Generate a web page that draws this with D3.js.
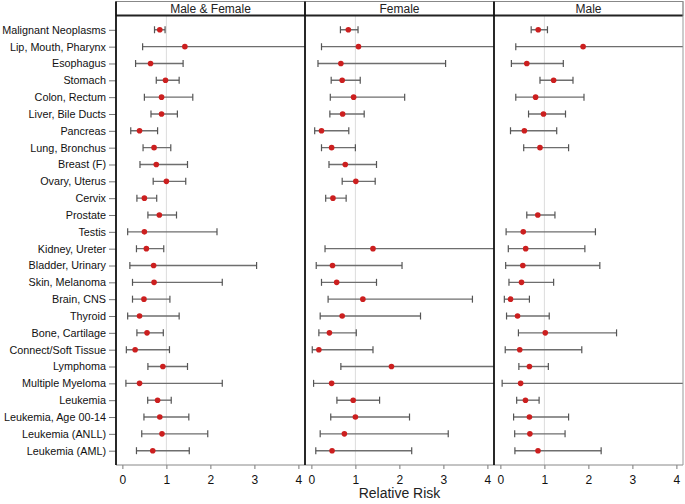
<!DOCTYPE html>
<html><head><meta charset="utf-8">
<script src="https://cdn.jsdelivr.net/npm/d3@7"></script>
<style>body{margin:0;background:#fff;} svg{display:block;font-family:"Liberation Sans",Arial,sans-serif;}</style>
</head><body><svg id="c" width="685" height="504"></svg>
<script>
const categories = ["Malignant Neoplasms","Lip, Mouth, Pharynx","Esophagus","Stomach","Colon, Rectum","Liver, Bile Ducts","Pancreas","Lung, Bronchus","Breast (F)","Ovary, Uterus","Cervix","Prostate","Testis","Kidney, Ureter","Bladder, Urinary","Skin, Melanoma","Brain, CNS","Thyroid","Bone, Cartilage","Connect/Soft Tissue","Lymphoma","Multiple Myeloma","Leukemia","Leukemia, Age 00-14","Leukemia (ANLL)","Leukemia (AML)"];
const panels = ["Male & Female","Female","Male"];
const xTicks = [0,1,2,3,4];

const mfEst = [0.85,1.42,0.64,0.98,0.89,0.89,0.39,0.72,0.77,1.00,0.50,0.84,0.50,0.545,0.71,0.72,0.49,0.39,0.56,0.29,0.92,0.39,0.80,0.85,0.90,0.69];
const mfLo  = [0.73,0.46,0.30,0.77,0.50,0.65,0.19,0.47,0.40,0.70,0.33,0.58,0.12,0.32,0.17,0.23,0.23,0.12,0.33,0.09,0.58,0.08,0.575,0.49,0.44,0.32];
const mfHi  = [0.97,5.0,1.38,1.29,1.60,1.25,0.80,1.10,1.48,1.44,0.78,1.23,2.15,0.94,3.05,2.27,1.08,1.29,0.93,1.07,1.48,2.27,1.11,1.51,1.94,1.52];

const fEst = [0.84,1.07,0.67,0.70,0.96,0.71,0.23,0.46,0.77,1.01,0.49,null,null,1.40,0.48,0.575,1.17,0.70,0.41,0.17,1.82,0.46,0.95,1.00,0.75,0.47];
const fLo  = [0.66,0.23,0.15,0.45,0.43,0.42,0.075,0.23,0.40,0.70,0.325,null,null,0.31,0.11,0.23,0.38,0.20,0.17,0.02,0.67,0.05,0.58,0.44,0.20,0.10];
const fHi  = [1.06,5.0,3.05,1.11,2.12,1.20,0.85,1.00,1.48,1.45,0.79,null,null,5.0,2.06,1.48,3.66,2.48,1.02,1.40,5.0,5.0,1.55,2.23,3.11,2.28];

const mEst = [0.86,1.88,0.60,1.21,0.80,0.98,0.545,0.90,null,null,null,0.85,0.52,0.575,0.51,0.48,0.23,0.39,1.02,0.44,0.66,0.46,0.57,0.66,0.67,0.855];
const mLo  = [0.70,0.35,0.25,0.90,0.35,0.64,0.23,0.53,null,null,null,0.60,0.13,0.18,0.12,0.195,0.09,0.14,0.41,0.11,0.42,0.04,0.37,0.30,0.325,0.33];
const mHi  = [1.07,5.0,1.43,1.65,1.90,1.48,1.28,1.55,null,null,null,1.24,2.16,1.92,2.26,1.21,0.66,1.11,2.64,1.85,1.09,5.0,0.88,1.55,1.47,2.29];

const seriesData = [[mfEst,mfLo,mfHi],[fEst,fLo,fHi],[mEst,mLo,mHi]];

const svg = d3.select("#c");
const plotTop = 15.5, plotBottom = 465;
const panelX = [116, 305, 494], panelW = 189;

const y = d3.scalePoint().domain(categories).range([plotTop, plotBottom]).padding(0.85);

const yAxis = svg.append("g").attr("transform", `translate(${panelX[0]},0)`)
  .call(d3.axisLeft(y).tickSize(7).tickPadding(3));
yAxis.select(".domain").remove();
yAxis.selectAll(".tick line").attr("stroke","#777");
yAxis.selectAll(".tick text").attr("font-size",10.8).attr("fill","#111").attr("font-family",'"Liberation Sans",Arial,sans-serif');

svg.append("defs").selectAll("clipPath").data(panels).join("clipPath")
  .attr("id",(d,i)=>"clip"+i)
  .append("rect").attr("x",(d,i)=>panelX[i]).attr("y",plotTop).attr("width",panelW).attr("height",plotBottom-plotTop);

panels.forEach((name, i) => {
  const x = d3.scaleLinear().domain([-0.145, 4.15]).range([panelX[i], panelX[i] + panelW]);
  const [est, lo, hi] = seriesData[i];
  const g = svg.append("g");

  g.append("line").attr("x1",x(1)).attr("x2",x(1)).attr("y1",plotTop).attr("y2",plotBottom)
    .attr("stroke","#dcdcdc").attr("stroke-width",1);

  const rows = categories.map((c,k)=>({c, e:est[k], l:lo[k], h:hi[k]})).filter(d=>d.e!=null);
  const pg = g.append("g").attr("clip-path",`url(#clip${i})`);
  pg.selectAll("line.bar").data(rows).join("line").attr("class","bar")
    .attr("x1",d=>x(d.l)).attr("x2",d=>x(d.h)).attr("y1",d=>y(d.c)).attr("y2",d=>y(d.c))
    .attr("stroke","#6e6e6e").attr("stroke-width",1.4);
  pg.selectAll("line.capl").data(rows).join("line").attr("class","capl")
    .attr("x1",d=>x(d.l)).attr("x2",d=>x(d.l)).attr("y1",d=>y(d.c)-3.5).attr("y2",d=>y(d.c)+3.5)
    .attr("stroke","#555").attr("stroke-width",1.2);
  pg.selectAll("line.caph").data(rows.filter(d=>d.h<4.15)).join("line").attr("class","caph")
    .attr("x1",d=>x(d.h)).attr("x2",d=>x(d.h)).attr("y1",d=>y(d.c)-3.5).attr("y2",d=>y(d.c)+3.5)
    .attr("stroke","#555").attr("stroke-width",1.2);
  pg.selectAll("circle").data(rows).join("circle")
    .attr("cx",d=>x(d.e)).attr("cy",d=>y(d.c)).attr("r",2.8)
    .attr("fill","#cc1f1f");

  const xa = svg.append("g").attr("transform",`translate(0,${plotBottom})`)
    .call(d3.axisBottom(x).tickValues(xTicks).tickFormat(d3.format("d")).tickSize(4).tickPadding(6));
  xa.select(".domain").remove();
  xa.selectAll(".tick line").attr("stroke","#777");
  xa.selectAll(".tick text").attr("font-size",12).attr("fill","#111").attr("font-family",'"Liberation Sans",Arial,sans-serif');

  svg.append("rect").attr("x",panelX[i]).attr("y",1.5).attr("width",panelW).attr("height",plotTop-1.5)
    .attr("fill","#fff").attr("stroke","#888").attr("stroke-width",1);
  svg.append("text").attr("x",panelX[i]+panelW/2).attr("y",8.8).attr("dy","0.35em")
    .attr("text-anchor","middle").attr("font-size",12).attr("fill","#222").text(name);
});

svg.append("line").attr("x1",panelX[0]).attr("x2",panelX[2]+panelW).attr("y1",plotBottom).attr("y2",plotBottom)
  .attr("stroke","#888").attr("stroke-width",1);
svg.append("line").attr("x1",panelX[0]).attr("x2",panelX[2]+panelW).attr("y1",plotTop).attr("y2",plotTop)
  .attr("stroke","#222").attr("stroke-width",1.8);
panelX.forEach(px=>{
  svg.append("line").attr("x1",px).attr("x2",px).attr("y1",1.5).attr("y2",plotBottom)
    .attr("stroke","#111").attr("stroke-width",1.8);
});
svg.append("line").attr("x1",panelX[2]+panelW).attr("x2",panelX[2]+panelW).attr("y1",1.5).attr("y2",plotBottom)
  .attr("stroke","#999").attr("stroke-width",1);

svg.append("text").attr("x",panelX[1]+panelW/2).attr("y",498).attr("text-anchor","middle")
  .attr("font-size",14).attr("fill","#222").text("Relative Risk");
</script></body></html>
